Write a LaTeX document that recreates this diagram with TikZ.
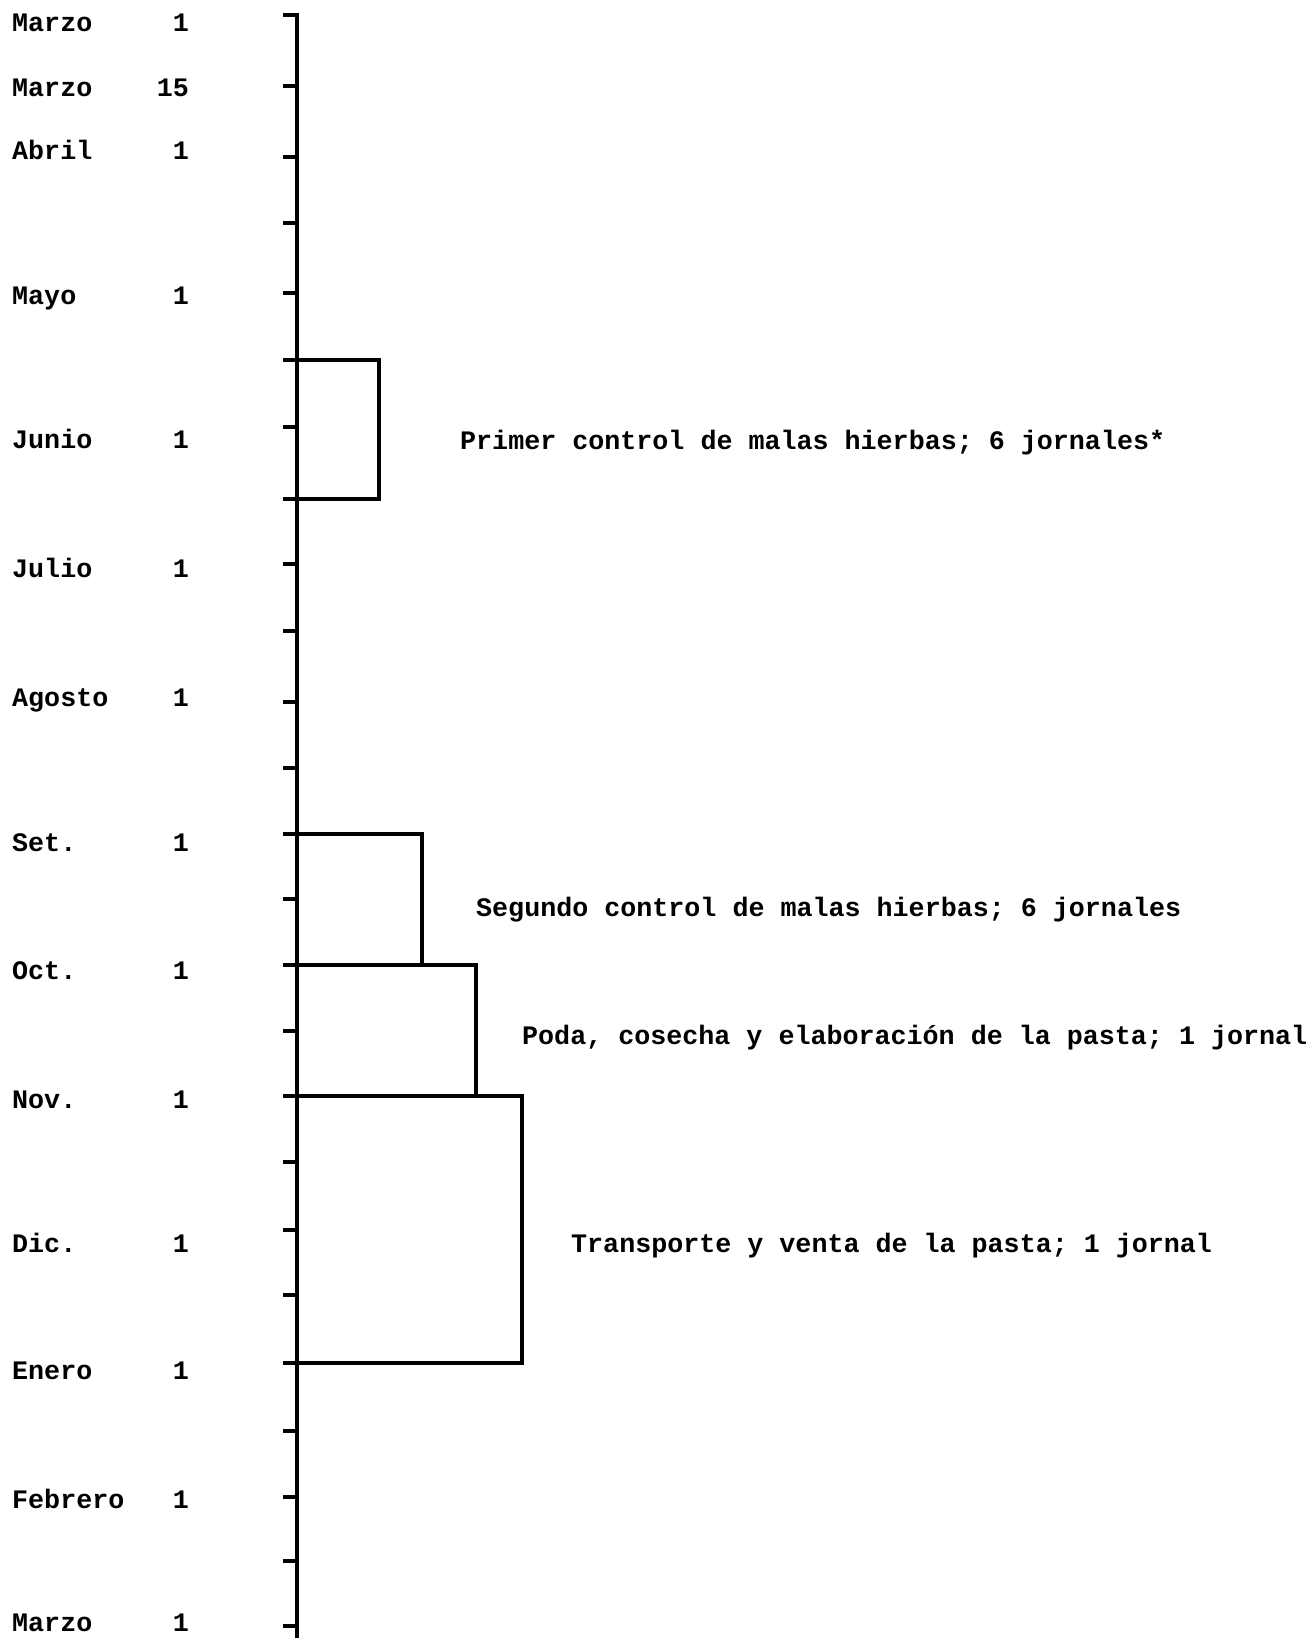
\documentclass[tikz,border=0pt]{standalone}
\usepackage{fontspec}
\setmainfont{Liberation Mono}
\begin{document}
\begin{tikzpicture}[x=1pt,y=-1pt,
  lbl/.style={inner sep=0pt,font=\fontsize{26.7}{30}\selectfont\bfseries},
  axisline/.style={line width=3.2pt},
  tickline/.style={line width=3.2pt},
  boxline/.style={line width=3.2pt,line join=miter}]
\useasboundingbox (0,0) rectangle (1311,1638);
% axis
\coordinate (top) at (297,13);
\coordinate (bot) at (297,1638);
\draw[axisline] (top) -- (bot);
% ticks
\foreach \y [count=\i] in {15,86,157,223,293,360,427,499,564,631,702,768,834,899,965,1031,1096,1162,1230,1295,1363,1431,1497,1561,1626}{
  \coordinate (t\i) at (297,\y);
  \coordinate (l\i) at (283,\y);
  \draw[tickline] (l\i) -- (t\i);
}
% month labels
\foreach \m/\n/\y [count=\i] in {Marzo/1/31, Marzo/15/96, Abril/1/159, Mayo/1/304, Junio/1/448, Julio/1/577, Agosto/1/706, Set./1/851, Oct./1/979, Nov./1/1108, Dic./1/1252, Enero/1/1379, Febrero/1/1508, Marzo/1/1631}{
  \node[lbl,anchor=base west] (m\i) at (12,\y) {\m};
  \node[lbl,anchor=base east] (n\i) at (189,\y) {\n};
}
% boxes
\draw[boxline] (l6) -- (379,360) -- (379,499) -- (l8);
\draw[boxline] (l13) -- (422,834) -- (422,965) -- (l15);
\draw[boxline] (l15) -- (476,965) -- (476,1096) -- (l17);
\draw[boxline] (l17) -- (522,1096) -- (522,1363) -- (l21);
% descriptions
\node[lbl,anchor=base west] (d1) at (460,449) {Primer control de malas hierbas; 6 jornales*};
\node[lbl,anchor=base west] (d2) at (476,916) {Segundo control de malas hierbas; 6 jornales};
\node[lbl,anchor=base west] (d3) at (522,1044) {Poda, cosecha y elaboración de la pasta; 1 jornal};
\node[lbl,anchor=base west] (d4) at (571,1252) {Transporte y venta de la pasta; 1 jornal};
\end{tikzpicture}
\end{document}
